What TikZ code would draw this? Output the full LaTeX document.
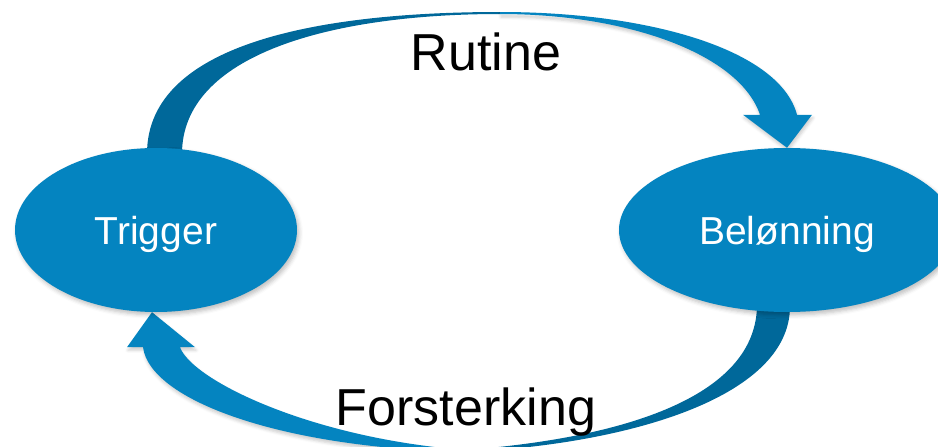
\documentclass[tikz,border=0pt]{standalone}
\usepackage{fontspec}
\setmainfont{Liberation Sans}
\usepackage{tikz}
\usetikzlibrary{shapes.geometric,calc,backgrounds,shadows.blur}

\definecolor{loopblue}{RGB}{4,132,192}
\definecolor{loopdark}{RGB}{0,104,154}

\begin{document}
\begin{tikzpicture}[x=1pt, y=-1pt,
    stage/.style={ellipse, fill=loopblue, text=white, inner sep=0pt,
        minimum height=164pt, text depth=0pt, font=\fontsize{39}{47}\selectfont,
        blur shadow={shadow xshift=2pt, shadow yshift=-3pt, shadow opacity=25, shadow blur radius=4pt}},
    phase/.style={anchor=base, font=\fontsize{52}{62}\selectfont},
    bandback/.style={fill=loopdark},
    bandfront/.style={fill=loopblue,
        blur shadow={shadow xshift=1pt, shadow yshift=-3pt, shadow opacity=20, shadow blur radius=3pt}}]
    \useasboundingbox (0,0) rectangle (938,447);

    \node[stage, minimum width=282pt] (trigger) at (156,230) {Trigger};
    \node[stage, minimum width=336pt] (belonning) at (787,230) {Belønning};

    \node[phase] (rutine) at (486,70) {Rutine};
    \node[phase] (forsterking) at (466,425) {Forsterking};

    \begin{scope}[on background layer]
        % Rutine: trigger -> belonning
        \fill[bandback] ($(trigger.north)+(-9,6)$) .. controls (147,40) and (330,12) .. (500,12)
            -- (500,14) .. controls (330,14) and (182,55) .. ($(trigger.north)+(26,6)$) -- cycle;
        \fill[bandfront] (500,12) .. controls (650,12) and (780,50) .. ($(belonning.north)+(10,-33)$)
            -- ($(belonning.north)+(25,-33)$) -- (belonning.north) -- ($(belonning.north)+(-44,-33)$)
            -- ($(belonning.north)+(-27,-33)$) .. controls (740,55) and (630,14) .. (500,14) -- cycle;

        % Forsterking: belonning -> trigger
        \fill[bandback] ($(belonning.south)+(3,-6)$) .. controls (790,400) and (620,445) .. (465,452)
            -- (465,450) .. controls (600,440) and (755,405) .. ($(belonning.south)+(-30,-6)$) -- cycle;
        \fill[bandfront] (465,452) .. controls (280,448) and (150,400) .. ($(trigger.south)+(-13,35)$)
            -- ($(trigger.south)+(-29,35)$) -- ($(trigger.south)+(-4,0)$) -- ($(trigger.south)+(39,35)$)
            -- ($(trigger.south)+(24,35)$) .. controls (192,380) and (310,438) .. (465,450) -- cycle;
    \end{scope}
\end{tikzpicture}
\end{document}
